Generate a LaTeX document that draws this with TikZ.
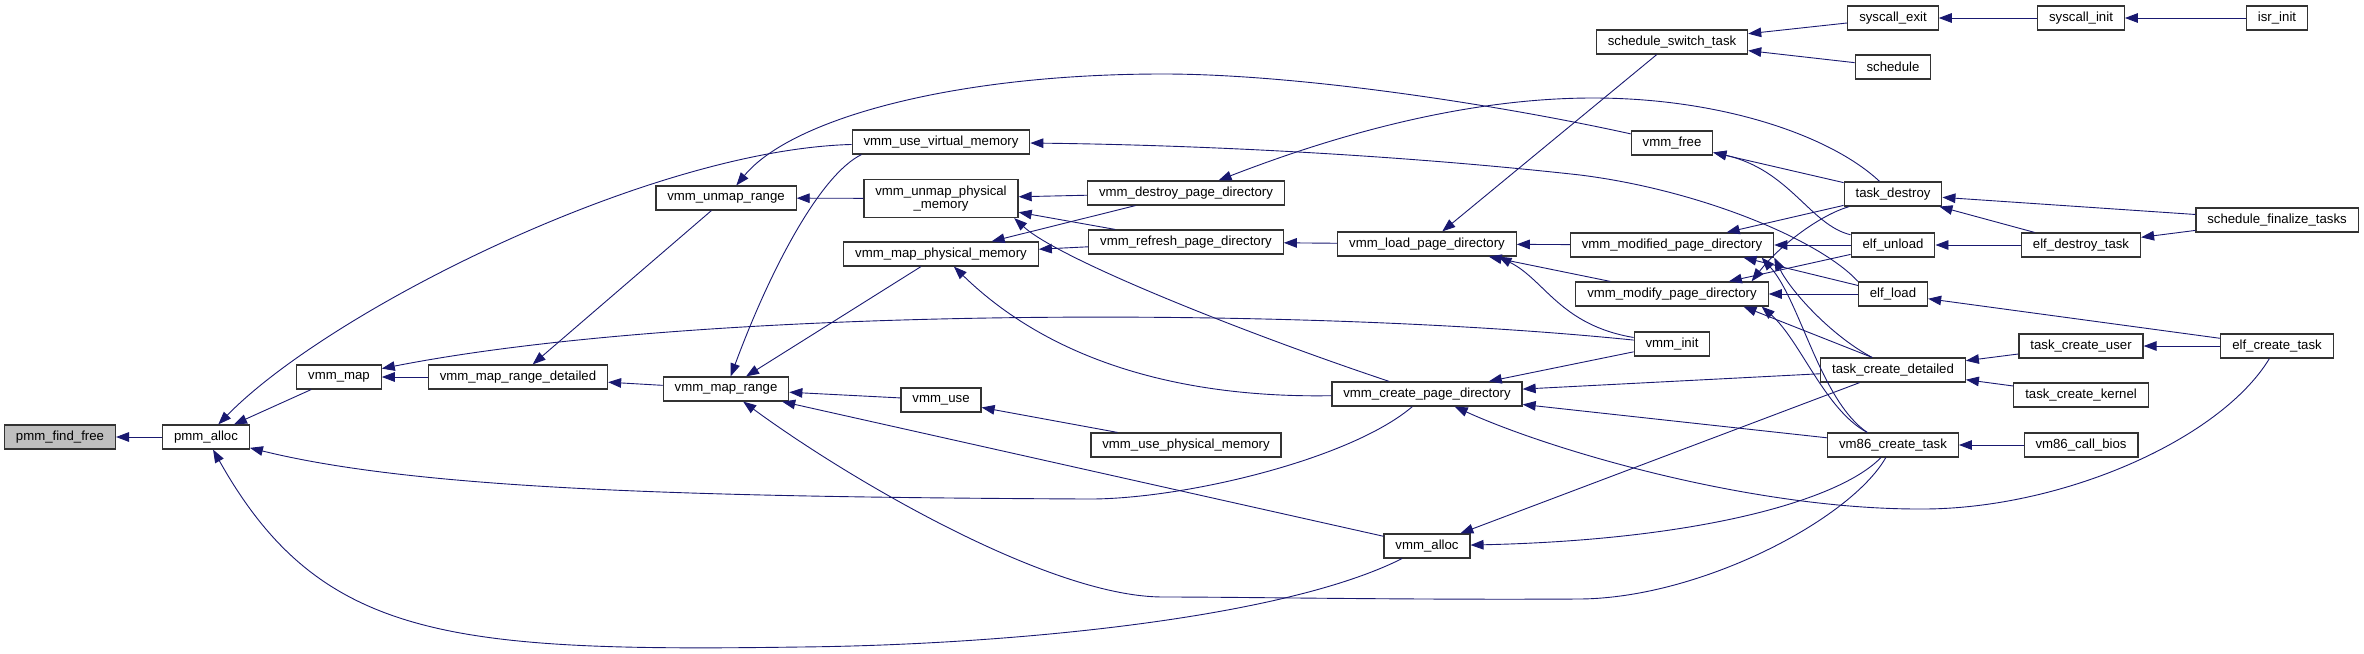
\documentclass[tikz,border=0pt]{standalone}
\usepackage{fontspec}
\setmainfont{Liberation Sans}
\usetikzlibrary{arrows.meta}
\definecolor{edgeblue}{HTML}{191970}
\definecolor{boxgrey}{HTML}{BFBFBF}

\begin{document}
\begin{tikzpicture}[
        x=0.5pt, y=-0.5pt,
        box/.style={draw=black!80, fill=white, line width=0.6pt, inner xsep=5.7pt, inner ysep=0pt, minimum height=12pt, align=center, font=\fontsize{6.6}{6.8}\selectfont},
        arr/.style={-{Triangle[length=6.5pt,width=4.8pt]}, draw=edgeblue, line width=0.45pt},
    ]
    \useasboundingbox (0,0) rectangle (2364,653);
    \node[box, fill=boxgrey] (find) at (60,437) {pmm\_find\_free};
    \node[box] (palloc) at (206,437) {pmm\_alloc};
    \node[box] (vmap) at (339,377) {vmm\_map};
    \node[box] (mrdet) at (518,377) {vmm\_map\_range\_detailed};
    \node[box] (mrange) at (726,389) {vmm\_map\_range};
    \node[box] (unrange) at (726,198) {vmm\_unmap\_range};
    \node[box] (usevirt) at (941,142) {vmm\_use\_virtual\_memory};
    \node[box, minimum height=19pt] (unphys) at (941,198.5) {vmm\_unmap\_physical\\\_memory};
    \node[box] (mphys) at (941,254) {vmm\_map\_physical\_memory};
    \node[box] (vuse) at (941,400) {vmm\_use};
    \node[box] (destroypd) at (1186,193) {vmm\_destroy\_page\_directory};
    \node[box] (refreshpd) at (1186,242) {vmm\_refresh\_page\_directory};
    \node[box] (usephys) at (1186,445) {vmm\_use\_physical\_memory};
    \node[box] (loadpd) at (1427,244) {vmm\_load\_page\_directory};
    \node[box] (createpd) at (1427,394) {vmm\_create\_page\_directory};
    \node[box] (valloc) at (1427,546) {vmm\_alloc};
    \node[box] (switchtask) at (1672,42) {schedule\_switch\_task};
    \node[box] (vfree) at (1672,143) {vmm\_free};
    \node[box] (modifiedpd) at (1672,245) {vmm\_modified\_page\_directory};
    \node[box] (modifypd) at (1672,294) {vmm\_modify\_page\_directory};
    \node[box] (vinit) at (1672,344) {vmm\_init};
    \node[box] (sysexit) at (1893,18) {syscall\_exit};
    \node[box] (sched) at (1893,67) {schedule};
    \node[box] (tdestroy) at (1893,194) {task\_destroy};
    \node[box] (elfunload) at (1893,245) {elf\_unload};
    \node[box] (elfload) at (1893,294) {elf\_load};
    \node[box] (tcdetailed) at (1893,370) {task\_create\_detailed};
    \node[box] (vm86create) at (1893,445) {vm86\_create\_task};
    \node[box] (sysinit) at (2081,18) {syscall\_init};
    \node[box] (edestroy) at (2081,245) {elf\_destroy\_task};
    \node[box] (tcuser) at (2081,346) {task\_create\_user};
    \node[box] (tckernel) at (2081,395) {task\_create\_kernel};
    \node[box] (vm86bios) at (2081,445) {vm86\_call\_bios};
    \node[box] (isrinit) at (2277,18) {isr\_init};
    \node[box] (schedfin) at (2277,220) {schedule\_finalize\_tasks};
    \node[box] (ecreate) at (2277,346) {elf\_create\_task};
    \draw[arr] (palloc) -- (find);
    \draw[arr] (vmap) -- (palloc);
    \draw[arr] (usevirt) .. controls (650,150) and (330,310) .. (palloc);
    \draw[arr] (createpd) .. controls (1350,460) and (1180,500) .. (1086,499) .. controls (700,497) and (420,490) .. (palloc);
    \draw[arr] (valloc) .. controls (1280,620) and (1000,645) .. (800,647) .. controls (450,652) and (320,640) .. (palloc);
    \draw[arr] (mrdet) -- (vmap);
    \draw[arr] (vinit) .. controls (1300,306) and (700,306) .. (vmap);
    \draw[arr] (mrange) -- (mrdet);
    \draw[arr] (unrange) -- (mrdet);
    \draw[arr] (vuse) -- (mrange);
    \draw[arr] (mphys) -- (mrange);
    \draw[arr] (usevirt.189) .. controls (820,175) and (770,270) .. (mrange);
    \draw[arr] (valloc) -- (mrange);
    \draw[arr] (vm86create) .. controls (1850,520) and (1700,598) .. (1580,599) .. controls (1400,600) and (1250,597) .. (1163,597) .. controls (1050,597) and (850,480) .. (mrange);
    \draw[arr] (unphys) -- (unrange);
    \draw[arr] (vfree) .. controls (1500,105) and (1300,74) .. (1163,74) .. controls (950,74) and (790,120) .. (unrange);
    \draw[arr] (destroypd) -- (unphys);
    \draw[arr] (refreshpd) -- (unphys);
    \draw[arr] (createpd) .. controls (1250,335) and (1060,260) .. (unphys.-15);
    \draw[arr] (refreshpd) -- (mphys);
    \draw[arr] (destroypd) -- (mphys);
    \draw[arr] (createpd) .. controls (1200,398) and (1060,370) .. (mphys);
    \draw[arr] (usephys) -- (vuse);
    \draw[arr] (tdestroy) .. controls (1830,135) and (1720,98) .. (1593,98) .. controls (1450,98) and (1310,145) .. (destroypd);
    \draw[arr] (loadpd) -- (refreshpd);
    \draw[arr] (switchtask) -- (loadpd);
    \draw[arr] (modifiedpd) -- (loadpd);
    \draw[arr] (modifypd) -- (loadpd);
    \draw[arr] (vinit) .. controls (1560,325) and (1545,280) .. (loadpd.-10);
    \draw[arr] (elfload.north west) .. controls (1820,240) and (1700,190) .. (1580,175) .. controls (1400,155) and (1200,145) .. (usevirt);
    \draw[arr] (vinit) -- (createpd);
    \draw[arr] (tcdetailed) -- (createpd);
    \draw[arr] (vm86create) -- (createpd);
    \draw[arr] (ecreate) .. controls (2220,440) and (2060,510) .. (1919,509) .. controls (1750,509) and (1550,450) .. (createpd);
    \draw[arr] (tcdetailed) -- (valloc);
    \draw[arr] (vm86create) .. controls (1840,500) and (1700,540) .. (valloc);
    \draw[arr] (sysexit) -- (switchtask);
    \draw[arr] (sched) -- (switchtask);
    \draw[arr] (sysinit) -- (sysexit);
    \draw[arr] (isrinit) -- (sysinit);
    \draw[arr] (tdestroy) -- (vfree);
    \draw[arr] (elfunload) .. controls (1810,225) and (1790,170) .. (vfree);
    \draw[arr] (tdestroy) -- (modifiedpd);
    \draw[arr] (elfunload) -- (modifiedpd);
    \draw[arr] (elfload) -- (modifiedpd.-10);
    \draw[arr] (tcdetailed.149) .. controls (1830,335) and (1790,290) .. (modifiedpd.-7);
    \draw[arr] (vm86create.154) .. controls (1820,400) and (1800,300) .. (modifiedpd.-8);
    \draw[arr] (tdestroy) .. controls (1820,215) and (1780,245) .. (modifypd.9);
    \draw[arr] (elfunload) -- (modifypd);
    \draw[arr] (elfload) -- (modifypd);
    \draw[arr] (tcdetailed.149) -- (modifypd.-10);
    \draw[arr] (vm86create.154) .. controls (1825,410) and (1800,340) .. (modifypd.-8);
    \draw[arr] (schedfin) -- (tdestroy);
    \draw[arr] (edestroy) -- (tdestroy);
    \draw[arr] (edestroy) -- (elfunload);
    \draw[arr] (schedfin) -- (edestroy);
    \draw[arr] (ecreate) -- (elfload);
    \draw[arr] (tcuser) -- (tcdetailed);
    \draw[arr] (tckernel) -- (tcdetailed);
    \draw[arr] (ecreate) -- (tcuser);
    \draw[arr] (vm86bios) -- (vm86create);
\end{tikzpicture}
\end{document}
